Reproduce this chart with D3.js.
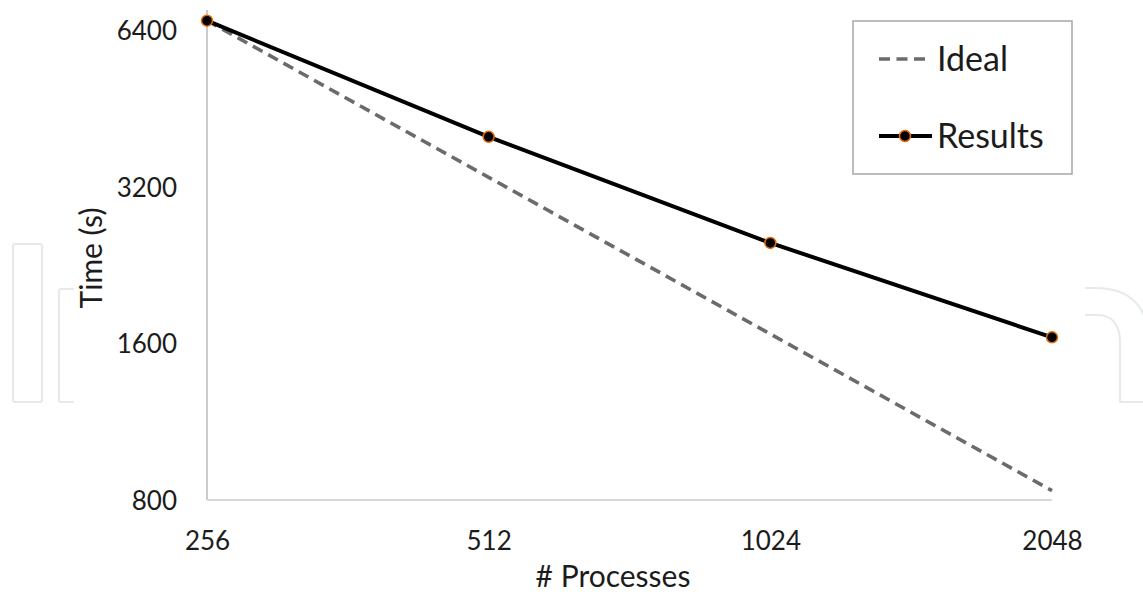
<!DOCTYPE html>
<html>
<head>
<meta charset="utf-8">
<script src="https://cdn.jsdelivr.net/npm/d3@7"></script>
<style>
  html, body { margin: 0; padding: 0; background: #fff; }
  svg { display: block; }
  text { font-family: Lato, "Open Sans", sans-serif; fill: #1c1c1c; }
</style>
</head>
<body>
<svg id="chart" width="1143" height="595"></svg>
<script>
// Strong-scaling run: wall time against number of processes
const processes = [256, 512, 1024, 2048];
const results = [6670, 3990, 2495, 1643];
// Ideal scaling halves the time each time the process count doubles
const ideal = [6670, 3335, 1667.5, 833.75];
const yTicks = [800, 1600, 3200, 6400];
const seriesNames = ["Ideal", "Results"];

const svg = d3.select("#chart");

// Faint background watermark outlines
const wm = svg.append("g")
  .attr("fill", "none")
  .attr("stroke", "#e7eaeb")
  .attr("stroke-width", 2.2);
wm.append("rect").attr("x", 13).attr("y", 244).attr("width", 29).attr("height", 158).attr("rx", 2);
wm.append("path").attr("d", "M74,289 L61,289 Q59,289 59,291 L59,400 Q59,402 61,402 L74,402");
wm.append("path").attr("d", "M1085,288 L1095,288 C1118,288 1137,296 1145,318");
wm.append("path").attr("d", "M1085,315 L1098,315 C1112,315 1120,325 1120,342 L1120,402 L1145,402");

const x = d3.scaleLog().base(2).domain([256, 2048]).range([207, 1052]);
const y = d3.scaleLog().base(2).domain([800, 6400]).range([500, 30]);

// Y axis
const yAxis = svg.append("g")
  .attr("transform", `translate(${x.range()[0]},0)`)
  .call(d3.axisLeft(y).tickValues(yTicks).tickFormat(d3.format("d")).tickSize(0).tickPadding(30));
yAxis.select(".domain").remove();
yAxis.selectAll("text")
  .style("font-size", "26px")
  .style("font-family", "Lato, 'Open Sans', sans-serif")
  .attr("fill", "#1c1c1c")
  .attr("dy", "0.36em");
svg.append("line")
  .attr("x1", x.range()[0]).attr("x2", x.range()[0])
  .attr("y1", y.range()[1] - 20).attr("y2", y.range()[0])
  .attr("stroke", "#bfbfbf").attr("stroke-width", 1.6);

// X axis
const xAxis = svg.append("g")
  .attr("transform", `translate(0,${y.range()[0]})`)
  .call(d3.axisBottom(x).tickValues(processes).tickFormat(d3.format("d")).tickSize(0).tickPadding(30));
xAxis.select(".domain").remove();
xAxis.selectAll("text")
  .style("font-size", "26px")
  .style("font-family", "Lato, 'Open Sans', sans-serif")
  .attr("fill", "#1c1c1c")
  .attr("dy", "0.36em")
  .attr("y", 41);
svg.append("line")
  .attr("x1", x.range()[0]).attr("x2", x.range()[1])
  .attr("y1", y.range()[0]).attr("y2", y.range()[0])
  .attr("stroke", "#d9d9d9").attr("stroke-width", 2);

// Axis titles
svg.append("text")
  .attr("x", 613).attr("y", 587)
  .attr("text-anchor", "middle")
  .style("font-size", "30px")
  .text("# Processes");
svg.append("text")
  .attr("transform", "translate(102,258) rotate(-90)")
  .attr("text-anchor", "middle")
  .style("font-size", "30px")
  .text("Time (s)");

const line = d3.line().x(d => x(d[0])).y(d => y(d[1]));

// Ideal (dashed)
svg.append("path")
  .datum(processes.map((p, i) => [p, ideal[i]]))
  .attr("d", line)
  .attr("fill", "none")
  .attr("stroke", "#6b6b6b")
  .attr("stroke-width", 3.6)
  .attr("stroke-dasharray", "11,6.5");

// Results (solid with markers)
const resData = processes.map((p, i) => [p, results[i]]);
svg.append("path")
  .datum(resData)
  .attr("d", line)
  .attr("fill", "none")
  .attr("stroke", "#000")
  .attr("stroke-width", 4);
svg.selectAll("circle.pt")
  .data(resData)
  .join("circle")
  .attr("class", "pt")
  .attr("cx", d => x(d[0]))
  .attr("cy", d => y(d[1]))
  .attr("r", 5.5)
  .attr("fill", "#000")
  .attr("stroke", "#e36c0a")
  .attr("stroke-width", 1.5);

// Legend
const lg = svg.append("g");
lg.append("rect")
  .attr("x", 853).attr("y", 21).attr("width", 219).attr("height", 153)
  .attr("fill", "#fff").attr("stroke", "#a6a6a6").attr("stroke-width", 1.5);
lg.append("line")
  .attr("x1", 879).attr("x2", 928).attr("y1", 59).attr("y2", 59)
  .attr("stroke", "#6b6b6b").attr("stroke-width", 3.6)
  .attr("stroke-dasharray", "11,6.5");
lg.append("text")
  .attr("x", 937).attr("y", 71)
  .style("font-size", "34px")
  .text(seriesNames[0]);
lg.append("line")
  .attr("x1", 879).attr("x2", 932).attr("y1", 136).attr("y2", 136)
  .attr("stroke", "#000").attr("stroke-width", 4);
lg.append("circle")
  .attr("cx", 905).attr("cy", 136).attr("r", 5.5)
  .attr("fill", "#000").attr("stroke", "#e36c0a").attr("stroke-width", 1.5);
lg.append("text")
  .attr("x", 937).attr("y", 148)
  .style("font-size", "34px")
  .text(seriesNames[1]);
</script>
</body>
</html>
